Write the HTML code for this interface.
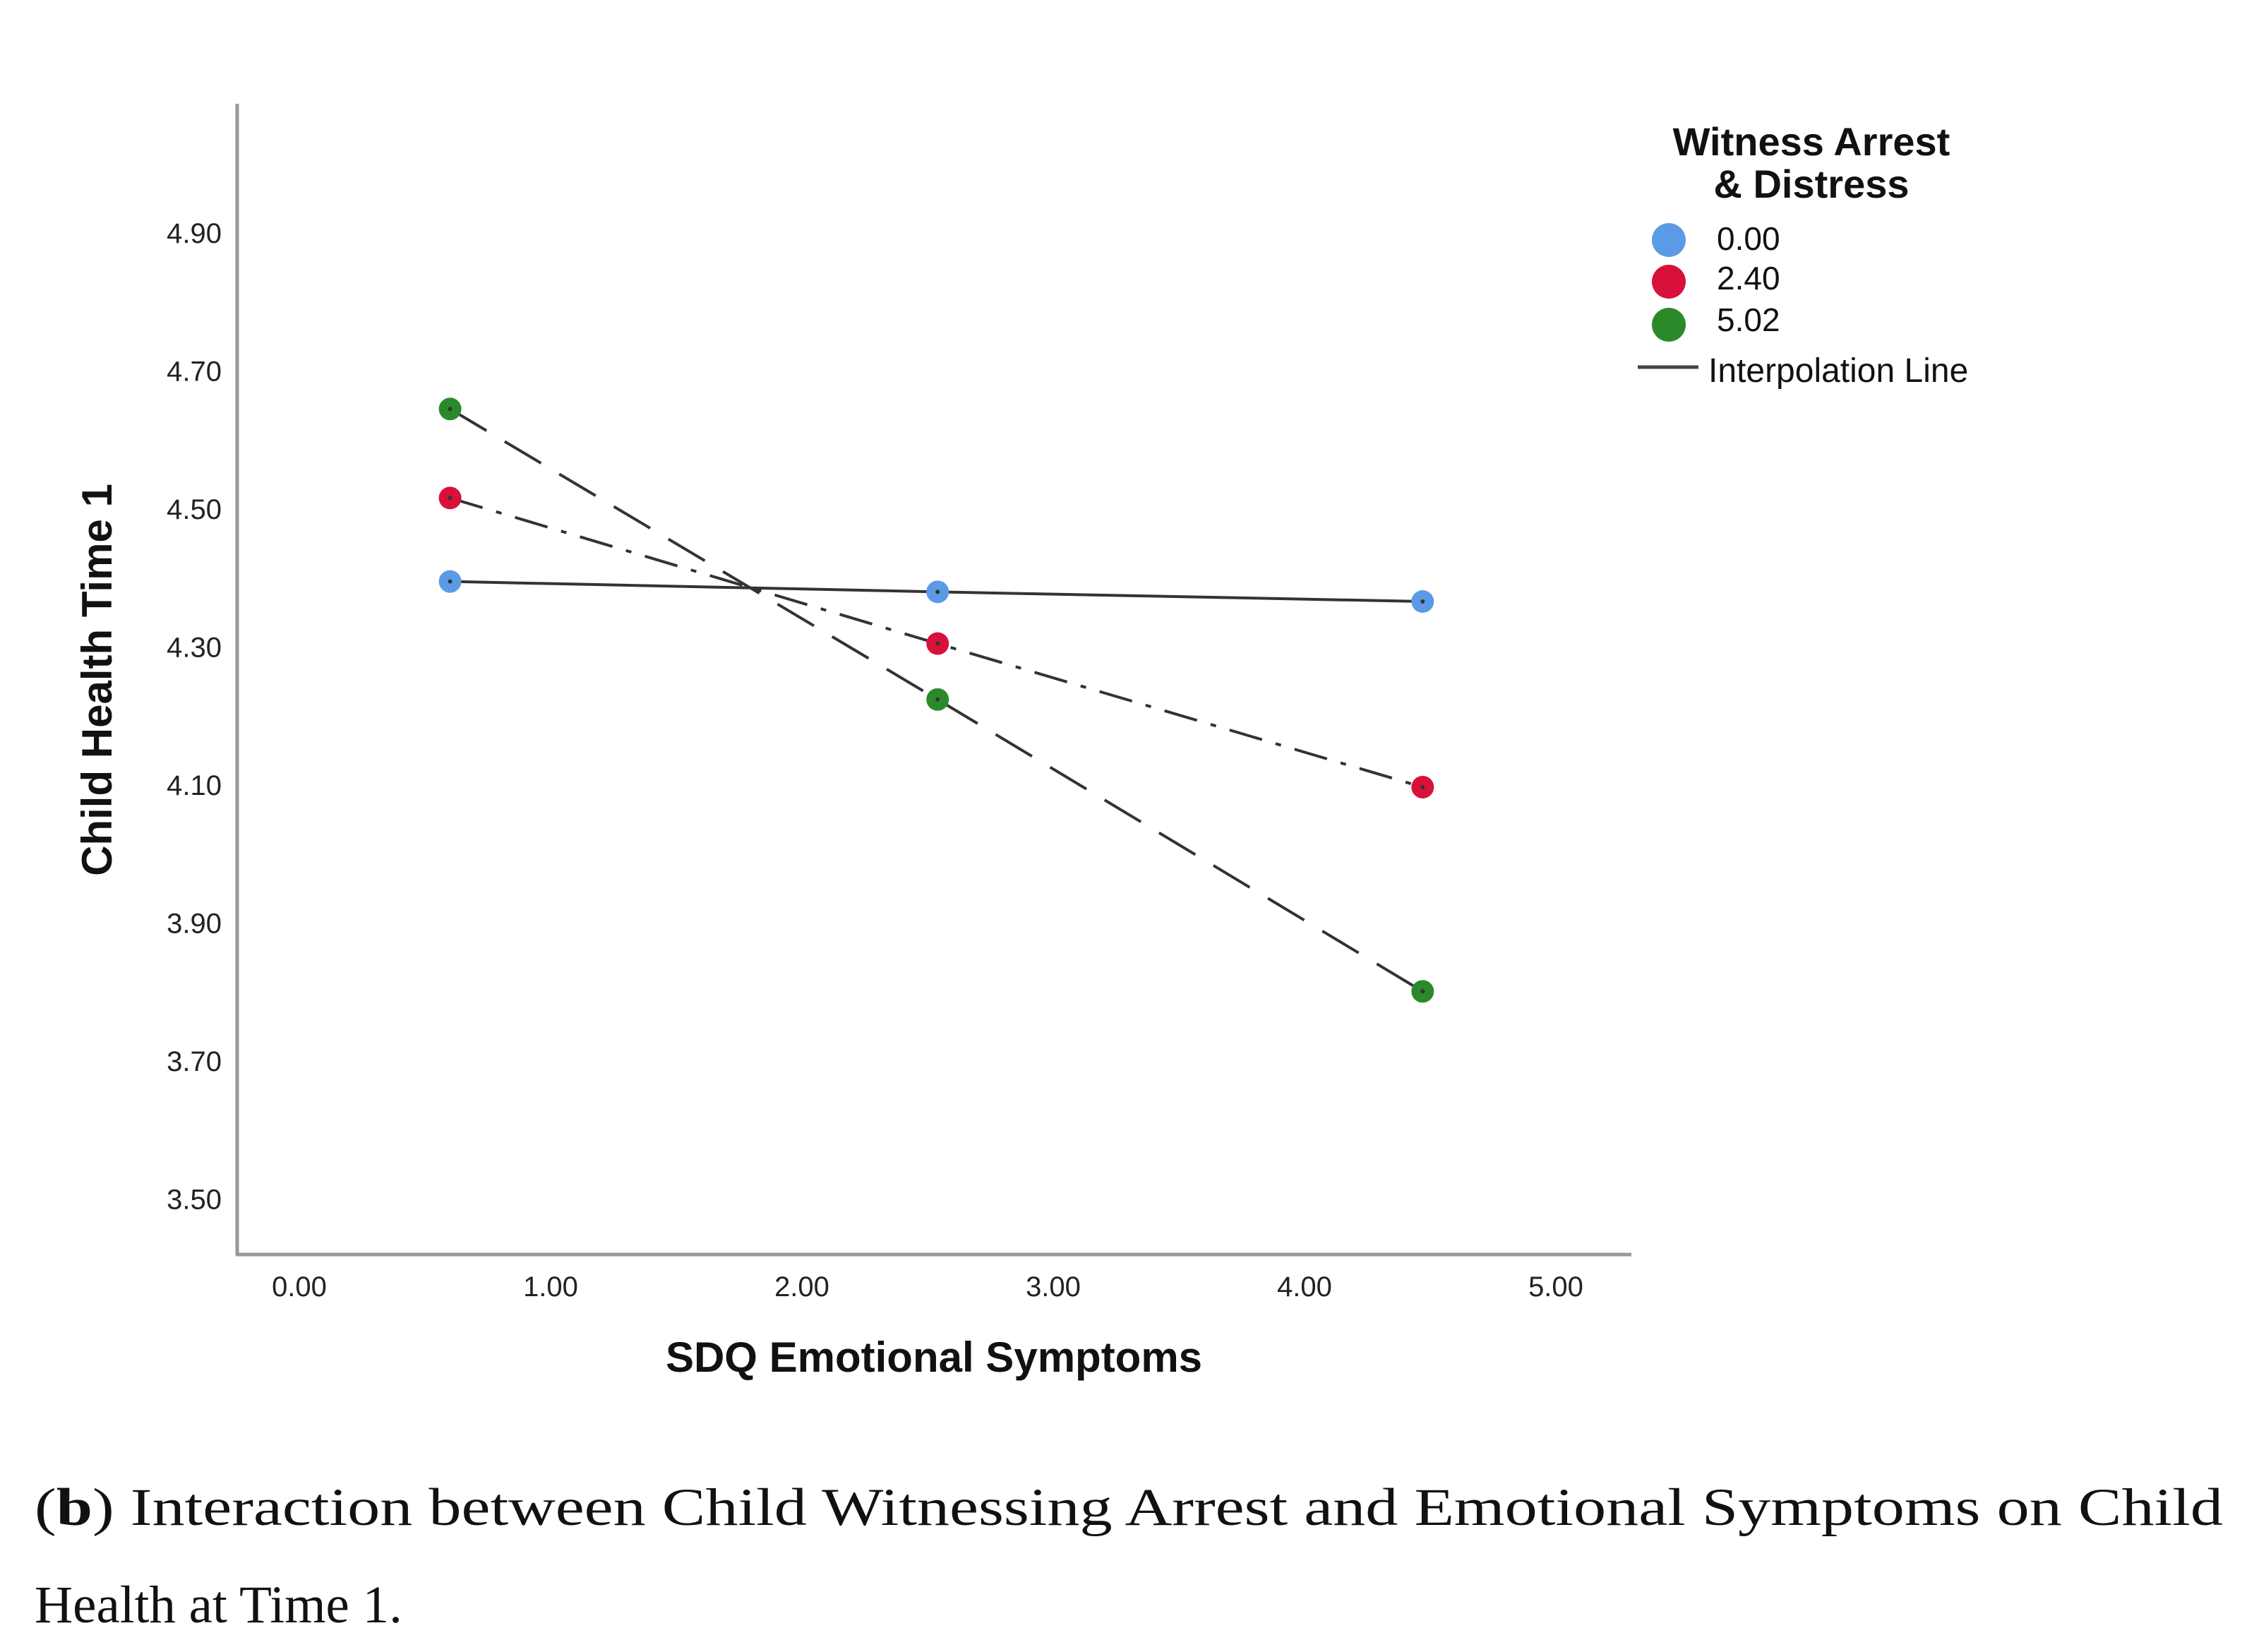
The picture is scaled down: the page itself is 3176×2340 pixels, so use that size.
<!DOCTYPE html>
<html><head><meta charset="utf-8"><style>
html,body{margin:0;padding:0;background:#fff;}
svg{display:block;}
</style></head><body>
<svg id="chart" width="3176" height="2340" xmlns="http://www.w3.org/2000/svg">
<rect width="3176" height="2340" fill="#fff"/>
<g id="axes"></g>
<g id="series"></g>
<text transform="translate(158,963) rotate(-90)" text-anchor="middle" font-family="'Liberation Sans',sans-serif" font-weight="bold" font-size="60" fill="#111">Child Health Time 1</text>
<text x="1323" y="1943" text-anchor="middle" font-family="'Liberation Sans',sans-serif" font-weight="bold" font-size="60" fill="#111">SDQ Emotional Symptoms</text>
<g font-family="'Liberation Sans',sans-serif" fill="#111">
<text x="2566" y="220" text-anchor="middle" font-weight="bold" font-size="56">Witness Arrest</text>
<text x="2566" y="280" text-anchor="middle" font-weight="bold" font-size="56">&amp; Distress</text>
<circle cx="2364" cy="340" r="24" fill="#5b9be6"/>
<text x="2432" y="354" font-size="46">0.00</text>
<circle cx="2364" cy="399" r="24" fill="#d8113a"/>
<text x="2432" y="410" font-size="46">2.40</text>
<circle cx="2364" cy="460" r="24" fill="#2a8a2a"/>
<text x="2432" y="469" font-size="46">5.02</text>
<line x1="2320" y1="520" x2="2406" y2="520" stroke="#444" stroke-width="5"/>
<text x="2420" y="541" font-size="48">Interpolation Line</text>
</g>
<g font-family="'Liberation Serif',serif" font-size="75" fill="#111">
<text x="49" y="2160" textLength="3100" lengthAdjust="spacingAndGlyphs">(<tspan font-weight="bold">b</tspan>) Interaction between Child Witnessing Arrest and Emotional Symptoms on Child</text>
<text x="49" y="2298">Health at Time 1.</text>
</g>
</svg>
<script>
const xTicks = [0, 1, 2, 3, 4, 5];
const yTicks = [3.5, 3.7, 3.9, 4.1, 4.3, 4.5, 4.7, 4.9];
const xValues = [0.6, 2.54, 4.47];
const groupNames = ["0.00", "2.40", "5.02"];
const seriesBlue = [4.396, 4.381, 4.367];
const seriesRed = [4.517, 4.306, 4.098];
const seriesGreen = [4.646, 4.225, 3.802];

const NS = "http://www.w3.org/2000/svg";
const x0 = 424, xs = 356;
function xPos(v){ return x0 + v * xs; }
const y490 = 331, ys = 195.5/0.2;
function yPos(v){ return y490 + (4.9 - v) * ys; }

const axes = document.getElementById('axes');
function mk(tag, attrs, parent){
  const e = document.createElementNS(NS, tag);
  for (const k in attrs) e.setAttribute(k, attrs[k]);
  parent.appendChild(e); return e;
}
const ya = mk('line', {x1:336, y1:147, x2:336, y2:1777, stroke:'#999', 'stroke-width':5}, axes);


const xa = mk('line', {x1:334, y1:1777, x2:2311, y2:1777, stroke:'#999', 'stroke-width':5}, axes);



yTicks.forEach(function(t){
  const tx = mk('text', {x:314, y:yPos(t)+13, 'text-anchor':'end', 'font-family':"'Liberation Sans',sans-serif", 'font-size':40, fill:'#222'}, axes);
  tx.textContent = t.toFixed(2);
  
  
});
xTicks.forEach(function(t){
  const tx = mk('text', {x:xPos(t), y:1836, 'text-anchor':'middle', 'font-family':"'Liberation Sans',sans-serif", 'font-size':40, fill:'#222'}, axes);
  tx.textContent = t.toFixed(2);
  
  
});

const seriesG = document.getElementById('series');
const defs = [
  {vals: seriesBlue, color:'#5b9be6', dash:'none', name:'series-0'},
  {vals: seriesRed, color:'#d8113a', dash:'48 20 8 20', name:'series-240'},
  {vals: seriesGreen, color:'#2a8a2a', dash:'60 30', name:'series-502'}
];
defs.forEach(function(s){
  const pts = s.vals.map(function(v,i){ return xPos(xValues[i]) + ',' + yPos(v); }).join(' ');
  const pl = mk('polyline', {points:pts, fill:'none', stroke:'#333', 'stroke-width':4, 'stroke-dasharray':s.dash}, seriesG);
  
  
});
defs.forEach(function(s){
  s.vals.forEach(function(v,i){
    const c = mk('circle', {cx:xPos(xValues[i]), cy:yPos(v), r:16, fill:s.color}, seriesG);
    
    
    const d = mk('circle', {cx:xPos(xValues[i]), cy:yPos(v), r:3, fill:'#333'}, seriesG);
    
    
  });
});
</script>
</body></html>
